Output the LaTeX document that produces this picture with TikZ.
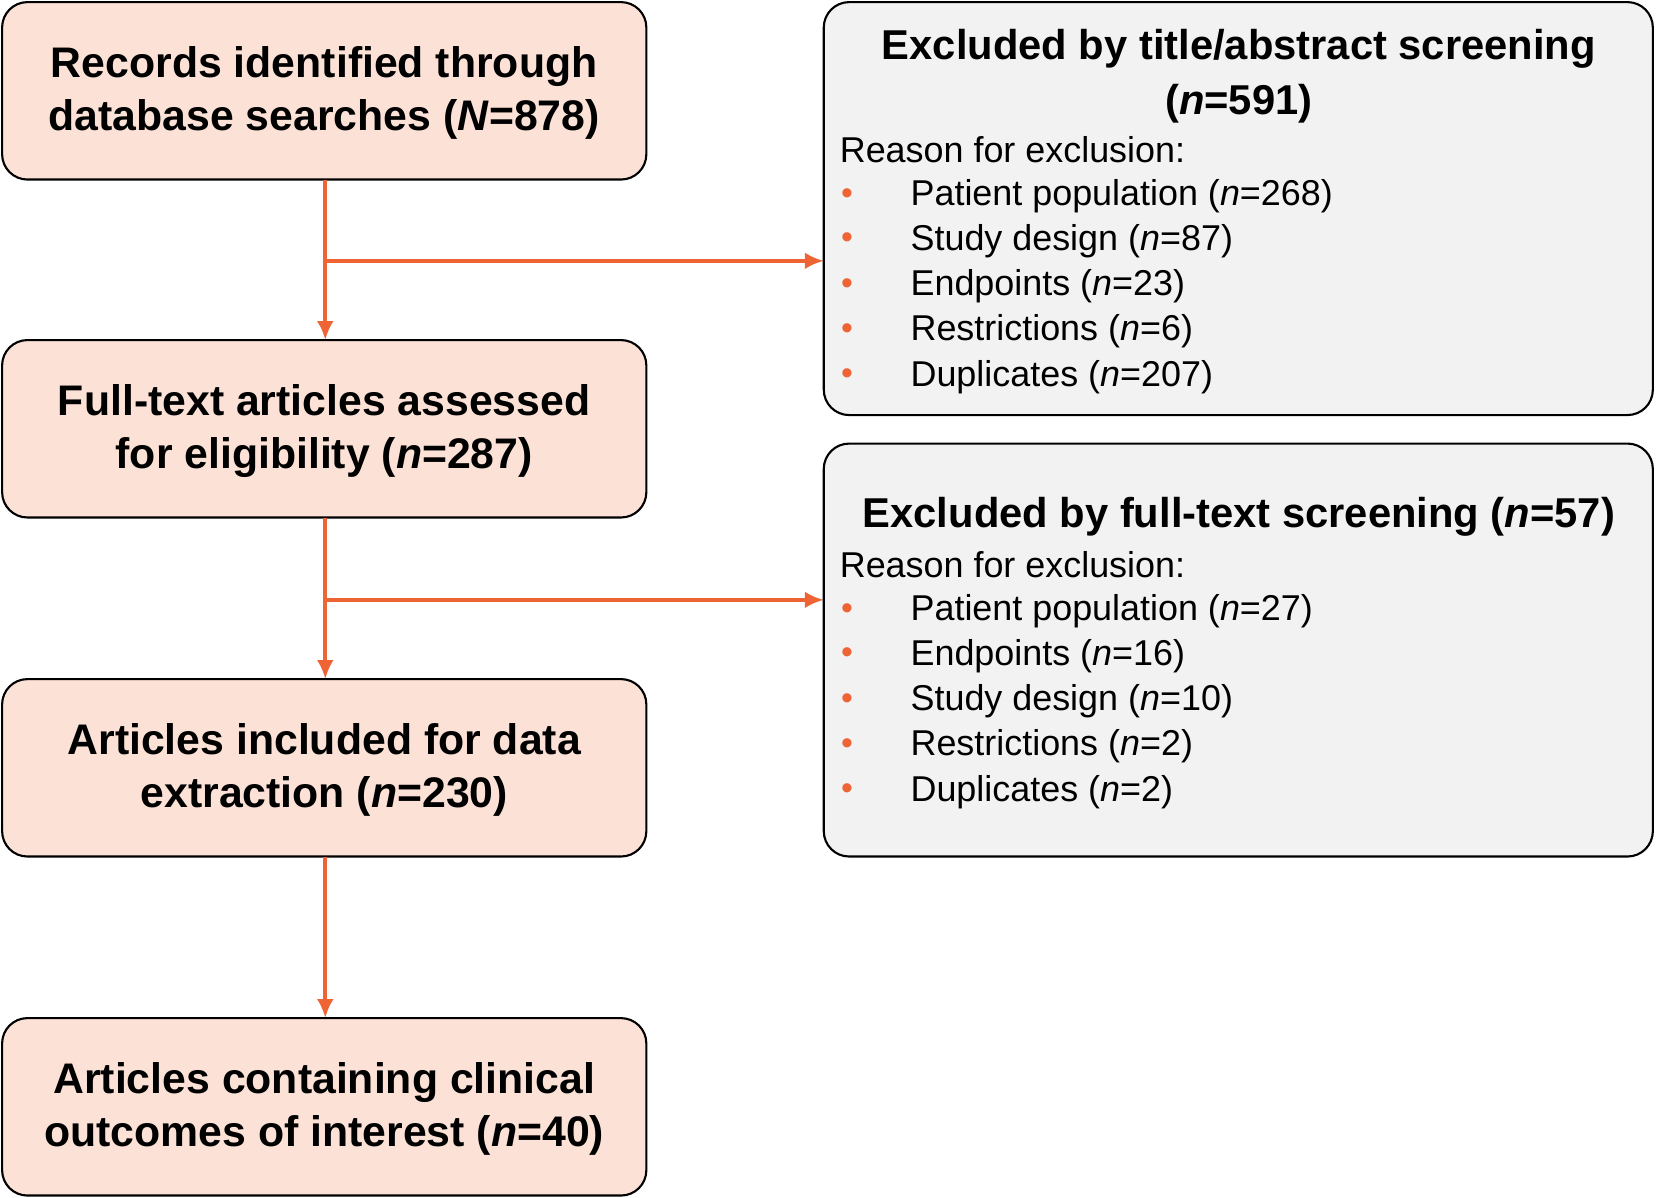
\documentclass[tikz,border=0pt]{standalone}
\usepackage{fontspec}
\usetikzlibrary{arrows.meta}
\setmainfont{Liberation Sans}
\definecolor{pinkf}{HTML}{FCE1D6}
\definecolor{grayf}{HTML}{F2F2F2}
\definecolor{org}{HTML}{EE6435}
\begin{document}
\begin{tikzpicture}[x=1pt,y=-1pt,
  lbox/.style={draw=black,line width=2pt,rounded corners=24pt,fill=pinkf},
  rbox/.style={draw=black,line width=2pt,rounded corners=24pt,fill=grayf},
  ltext/.style={align=center,font=\fontsize{40.5}{50}\selectfont\bfseries},
  ttl/.style={align=center,font=\fontsize{39.5}{52}\selectfont\bfseries},
  itm/.style={anchor=west,inner sep=0pt,font=\fontsize{34}{40}\selectfont},
  bul/.style={anchor=center,inner sep=0pt,text=org,font=\fontsize{32}{40}\selectfont},
  arr/.style={draw=org,line width=3.5pt,-{Latex[length=18pt,width=16pt]}}]
\useasboundingbox (0,0) rectangle (1568,1134);
\draw[lbox] (2,2) rectangle (612,170); \node[ltext] (a) at (307,88) {Records identified through\\database searches (\textit{N}=878)};
\draw[lbox] (2,322) rectangle (612,490); \node[ltext] (b) at (307,408) {Full-text articles assessed\\for eligibility (\textit{n}=287)};
\draw[lbox] (2,643) rectangle (612,811); \node[ltext] (c) at (307,729) {Articles included for data\\extraction (\textit{n}=230)};
\draw[lbox] (2,964) rectangle (612,1132); \node[ltext] (d) at (307,1050) {Articles containing clinical\\outcomes of interest (\textit{n}=40)};
\coordinate (at) at (308,170); \coordinate (bt) at (308,322);
\coordinate (bb) at (308,490); \coordinate (ct) at (308,643);
\coordinate (cb) at (308,811); \coordinate (dt) at (308,964);
\coordinate (j1) at (308,247); \coordinate (e1) at (780,247);
\coordinate (j2) at (308,568); \coordinate (e2) at (780,568);
\draw[arr] (at) -- (bt); \draw[arr] (bb) -- (ct); \draw[arr] (cb) -- (dt);
\draw[arr] (j1) -- (e1); \draw[arr] (j2) -- (e2);
\draw[rbox] (780,2) rectangle (1565,393);
\draw[rbox] (780,420) rectangle (1565,811);
\node[ttl] (t1) at (1173,72) {Excluded by title/abstract screening\\(\textit{n}=591)};
\node[itm] (r1) at (795,142) {Reason for exclusion:};
\foreach \y/\t in {186/{Patient population (\textit{n}=268)},228/{Study design (\textit{n}=87)},271/{Endpoints (\textit{n}=23)},314/{Restrictions (\textit{n}=6)},357/{Duplicates (\textit{n}=207)}}{
  \node[bul] at (802,\y) {•}; \node[itm] at (862,\y) {\t};}
\node[ttl] (t2) at (1173,489) {Excluded by full-text screening (\textit{n}=57)};
\node[itm] (r2) at (795,535) {Reason for exclusion:};
\foreach \y/\t in {579/{Patient population (\textit{n}=27)},621/{Endpoints (\textit{n}=16)},664/{Study design (\textit{n}=10)},707/{Restrictions (\textit{n}=2)},750/{Duplicates (\textit{n}=2)}}{
  \node[bul] at (802,\y) {•}; \node[itm] at (862,\y) {\t};}
\end{tikzpicture}
\end{document}
